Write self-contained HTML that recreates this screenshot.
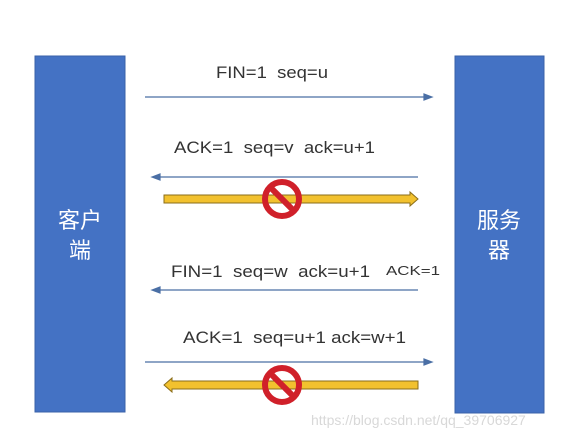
<!DOCTYPE html>
<html><head><meta charset="utf-8"><style>body{margin:0;background:#fff}svg{display:block}</style></head><body>
<svg width="564" height="438" xmlns="http://www.w3.org/2000/svg" font-family="Liberation Sans, sans-serif">
<rect width="564" height="438" fill="#fff"/>
<rect x="35" y="56" width="90" height="356" fill="#4472c4" stroke="#3a62a8"/>
<rect x="455" y="56" width="89" height="357" fill="#4472c4" stroke="#3a62a8"/>
<g fill="#fff" font-family="Liberation Sans, Noto Sans CJK SC, sans-serif" font-size="22" text-anchor="middle">
<text x="80" y="228">客户</text><text x="80" y="258">端</text>
<text x="499" y="228">服务</text><text x="499" y="258">器</text>
</g>
<g stroke="#4a6fa5" stroke-width="1.2" fill="#4a6fa5">
<line x1="145" y1="97" x2="426" y2="97"/><polygon points="432,97 424,94 424,100"/>
<line x1="158" y1="177" x2="418" y2="177"/><polygon points="152,177 160,174 160,180"/>
<line x1="158" y1="290" x2="418" y2="290"/><polygon points="152,290 160,287 160,293"/>
<line x1="145" y1="362" x2="426" y2="362"/><polygon points="432,362 424,359 424,365"/>
</g>
<polygon points="164,195 410,195 410,192 418,199 410,206 410,203 164,203" fill="#f2c12e" stroke="#8a6d1a" stroke-width="1"/>
<polygon points="418,381 172,381 172,378 164,385 172,392 172,389 418,389" fill="#f2c12e" stroke="#8a6d1a" stroke-width="1"/>
<g fill="none" stroke="#d0202a" stroke-width="6">
<circle cx="282" cy="199" r="17"/><line x1="270" y1="187" x2="294" y2="211"/>
<circle cx="282" cy="385" r="17"/><line x1="270" y1="373" x2="294" y2="397"/>
</g>
<g fill="#333" font-size="17">
<text x="216" y="78" xml:space="preserve" textLength="112" lengthAdjust="spacingAndGlyphs">FIN=1  seq=u</text>
<text x="174" y="153" xml:space="preserve" textLength="201" lengthAdjust="spacingAndGlyphs">ACK=1  seq=v  ack=u+1</text>
<text x="171" y="277" xml:space="preserve" textLength="199" lengthAdjust="spacingAndGlyphs">FIN=1  seq=w  ack=u+1</text>
<text x="183" y="343" xml:space="preserve" textLength="223" lengthAdjust="spacingAndGlyphs">ACK=1  seq=u+1 ack=w+1</text>
</g>
<text x="386" y="275" font-size="13" fill="#333" textLength="54" lengthAdjust="spacingAndGlyphs">ACK=1</text>
<text x="311" y="425" font-size="14" fill="#d8d8d8">https://blog.csdn.net/qq_39706927</text>
</svg>
</body></html>
